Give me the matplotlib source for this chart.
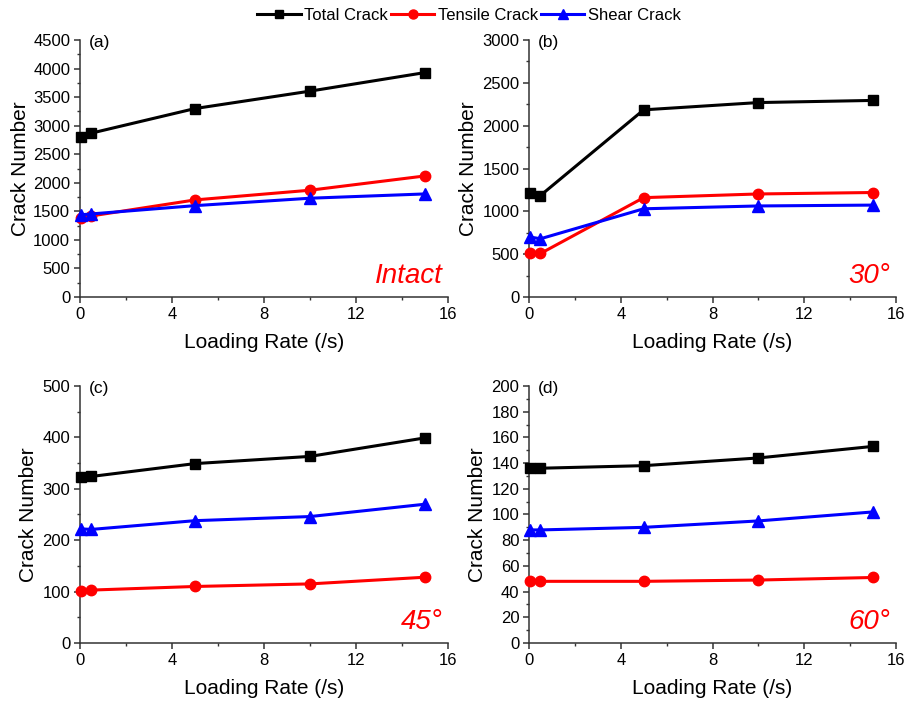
import matplotlib.pyplot as plt
from matplotlib.ticker import MultipleLocator
from matplotlib.lines import Line2D

plt.rcParams['font.family'] = ['Liberation Sans', 'DejaVu Sans']

rate = [0.05, 0.5, 5, 10, 15]

# (a) intact
total_a = [2795, 2870, 3300, 3605, 3930]
tensile_a = [1375, 1420, 1700, 1870, 2120]
shear_a = [1440, 1455, 1600, 1730, 1805]

# (b) 30 deg
total_b = [1210, 1185, 2185, 2270, 2295]
tensile_b = [515, 508, 1160, 1203, 1220]
shear_b = [700, 680, 1030, 1063, 1073]

# (c) 45 deg
total_c = [323, 324, 349, 363, 399]
tensile_c = [101, 103, 110, 115, 128]
shear_c = [222, 221, 238, 246, 270]

# (d) 60 deg
total_d = [136, 136, 138, 144, 153]
tensile_d = [48, 48, 48, 49, 51]
shear_d = [88, 88, 90, 95, 102]

panels = [
    ('(a)', 'Intact', total_a, tensile_a, shear_a, 4500, 500),
    ('(b)', '30°', total_b, tensile_b, shear_b, 3000, 500),
    ('(c)', '45°', total_c, tensile_c, shear_c, 500, 100),
    ('(d)', '60°', total_d, tensile_d, shear_d, 200, 20),
]
positions = [
    [0.0873, 0.5763, 0.4017, 0.3666],
    [0.5775, 0.5763, 0.4007, 0.3666],
    [0.0873, 0.0827, 0.4017, 0.3667],
    [0.5775, 0.0827, 0.4007, 0.3667],
]
ylabel_x = [-0.136, -0.139, -0.114, -0.114]

fig = plt.figure(figsize=(9.16, 7.01), dpi=100)

for pos, lx, (tag, name, tot, ten, sh, ymax, ystep) in zip(positions, ylabel_x, panels):
    ax = fig.add_axes(pos)
    ax.plot(rate, tot, color='black', marker='s', lw=2.2, ms=7, clip_on=False, zorder=3)
    ax.plot(rate, ten, color='red', marker='o', lw=2.2, ms=7.5, clip_on=False, zorder=3)
    ax.plot(rate, sh, color='blue', marker='^', lw=2.2, ms=8, clip_on=False, zorder=3)
    ax.set_xlim(0, 16)
    ax.set_ylim(0, ymax)
    ax.xaxis.set_major_locator(MultipleLocator(4))
    ax.xaxis.set_minor_locator(MultipleLocator(2))
    ax.yaxis.set_major_locator(MultipleLocator(ystep))
    ax.yaxis.set_minor_locator(MultipleLocator(ystep / 2))
    for side in ('top', 'right'):
        ax.spines[side].set_visible(False)
    for side in ('left', 'bottom'):
        ax.spines[side].set_color('#333333')
        ax.spines[side].set_linewidth(1.1)
    ax.tick_params(which='major', length=4, width=1.1, color='#333333', labelsize=12, pad=3)
    ax.tick_params(which='minor', length=2.5, width=1, color='#333333')
    ax.set_xlabel('Loading Rate (/s)', fontsize=15)
    ax.set_ylabel('Crack Number', fontsize=15)
    ax.xaxis.set_label_coords(0.5, -0.14)
    ax.yaxis.set_label_coords(lx, 0.5)
    ax.text(0.025, 0.99, tag, transform=ax.transAxes, fontsize=12.5, va='center', ha='left')
    ax.text(0.985, 0.03, name, transform=ax.transAxes, fontsize=20, color='red',
            style='italic', ha='right', va='bottom')

handles = [
    Line2D([], [], color='black', marker='s', lw=2.2, ms=6),
    Line2D([], [], color='red', marker='o', lw=2.2, ms=6.5),
    Line2D([], [], color='blue', marker='^', lw=2.2, ms=7),
]
fig.legend(handles, ['Total Crack', 'Tensile Crack', 'Shear Crack'], loc='center',
           bbox_to_anchor=(0.512, 0.978), ncol=3, frameon=False, fontsize=12,
           handlelength=2.6, handletextpad=0.2, columnspacing=0.2)

fig.savefig('out.png', dpi=100)
